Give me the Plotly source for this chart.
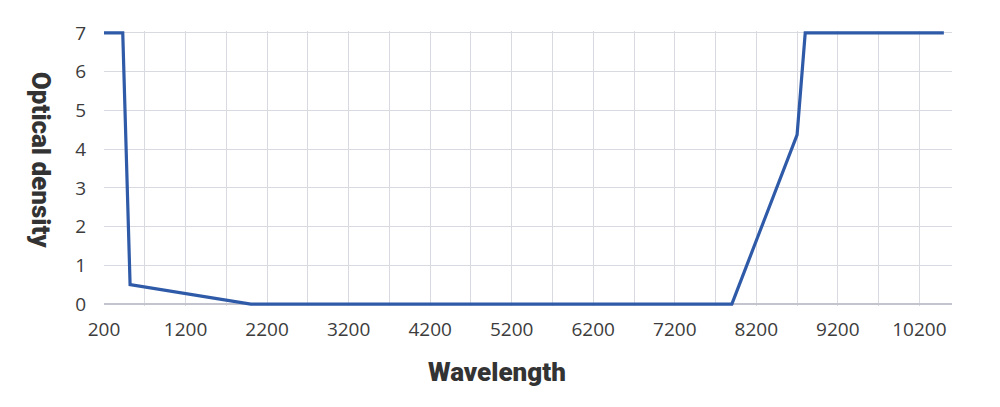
import plotly.graph_objects as go

# optical density curve
wavelength = [200, 430, 520, 2000, 7900, 8700, 8800, 10500]
optical_density = [7, 7, 0.5, 0, 0, 4.37, 7, 7]

x_tick_vals = [200, 1200, 2200, 3200, 4200, 5200, 6200, 7200, 8200, 9200, 10200]
x_tick_text = [str(v) for v in x_tick_vals]
y_tick_vals = [0, 1, 2, 3, 4, 5, 6, 7]

title_font = dict(family="Roboto, sans-serif", size=26, color="#333333", weight=900)
tick_font = dict(family="Open Sans, Liberation Sans, sans-serif", size=19, color="#3c3c3c")
grid_color = "#d9d9e2"

# the page puts 8px of body margin round the plot, so the margins allow for it
fig = go.Figure()
fig.add_scatter(
    x=wavelength,
    y=optical_density,
    mode="lines",
    line=dict(color="#2e5aa8", width=3.2),
    showlegend=False,
)

(
    fig.update_layout(
        width=1000,
        height=407,
        margin=dict(l=96, r=56, t=20, b=109),
        paper_bgcolor="white",
        plot_bgcolor="white",
        font=tick_font,
    )
    .update_xaxes(
        range=[200, 10600],
        tickvals=x_tick_vals,
        ticktext=x_tick_text,
        tickfont=tick_font,
        showgrid=True,
        gridcolor=grid_color,
        gridwidth=1,
        minor=dict(tick0=200, dtick=500, showgrid=True, gridcolor=grid_color, gridwidth=1),
        ticks="",
        ticklabelstandoff=10,
        zeroline=False,
        showline=False,
    )
    .update_yaxes(
        range=[-0.05, 7.05],
        tickvals=y_tick_vals,
        tickfont=tick_font,
        showgrid=True,
        gridcolor=grid_color,
        gridwidth=1,
        zeroline=True,
        zerolinecolor="#c4c4cf",
        zerolinewidth=1.5,
        ticks="",
        ticklabelstandoff=17,
        showline=False,
    )
)

fig.add_annotation(
    text="Wavelength",
    xref="paper",
    yref="paper",
    x=(497 - 104) / (952 - 104),
    y=-0.241,
    xanchor="center",
    yanchor="middle",
    showarrow=False,
    font=title_font,
)
fig.add_annotation(
    text="Optical density",
    xref="paper",
    yref="paper",
    x=-0.075,
    y=0.53,
    xanchor="center",
    yanchor="middle",
    textangle=90,
    showarrow=False,
    font=title_font,
)

fig.write_html("out.html")
